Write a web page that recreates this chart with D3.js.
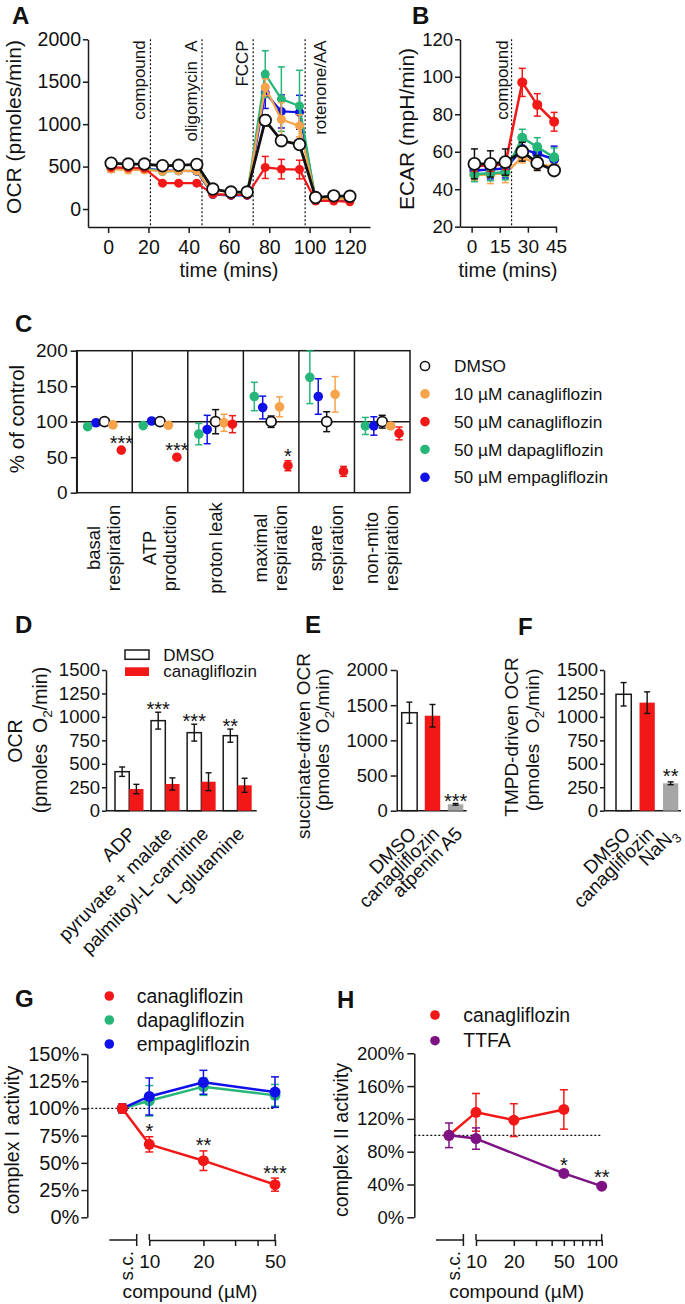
<!DOCTYPE html>
<html><head><meta charset="utf-8">
<script src="https://cdn.jsdelivr.net/npm/d3@7"></script>
<style>body{margin:0;background:#fff} svg{display:block} text{font-family:'Liberation Sans',Arial,Helvetica,sans-serif;fill:#111}</style>
</head><body>
<script>
const FONT="'Liberation Sans', Arial, Helvetica, sans-serif";
const COL={green:"#25b678",orange:"#f7a34c",red:"#f21818",blue:"#1010e8",purple:"#7e1184",gray:"#a6a6a6",ink:"#1a1a1a"};
const fmtInt=d3.format("d");

// ---------- Panel A data (OCR, pmoles/min)
const timeA=[1.5,10,18,27,35,44,52,61,69,78,86,95,103,112,120];
const ocrDMSO=[540,530,530,510,515,525,235,200,200,1045,805,760,135,155,150];
const ocrDMSOerr=[30,20,20,20,20,20,15,15,15,65,40,40,15,15,15];
const ocrCana10=[470,460,460,445,450,450,180,170,170,1435,1055,980,115,120,120];
const ocrCana10err=[30,30,30,30,30,30,20,20,20,100,200,130,15,15,15];
const ocrCana50=[490,485,480,305,305,305,175,165,165,490,470,465,95,95,85];
const ocrCana50err=[20,20,20,20,20,20,15,15,15,130,115,110,10,10,10];
const ocrDapa=[480,480,480,440,450,450,180,170,170,1590,1295,1215,110,120,120];
const ocrDapaErr=[30,30,30,30,30,30,20,20,20,275,380,420,15,15,15];
const ocrEmpa=[480,480,475,455,450,445,170,160,160,1370,1150,1140,100,110,110];
const ocrEmpaErr=[45,30,30,30,30,30,20,20,20,185,195,200,15,15,15];
const injTimesA=[21,46.6,72,97.8];
const injLabelsA=["compound","oligomycin\u00A0\u00A0A","FCCP","rotenone/AA"];
const injSideA=["left","left","left","right"];
const ticksAx=[0,20,40,60,80,100,120], ticksAy=[0,500,1000,1500,2000];

// ---------- Panel B data (ECAR, mpH/min)
const timeB=[1.5,10,18,27,35,44];
const ecarDMSO=[53.5,53.5,54.5,60,54,50], ecarDMSOerr=[8,7,7,5,4,2];
const ecarCana10=[47.5,48,48.5,57,53.5,52], ecarCana10err=[3,5,5,3,3,3];
const ecarCana50=[52.5,52.5,53.5,97,85,76], ecarCana50err=[3,3,3,7.5,6,5];
const ecarDapa=[48,48.5,49,67.5,62.5,57], ecarDapaErr=[4,4,4,4.5,5,5];
const ecarEmpa=[50,50.5,51,61.5,59,56], ecarEmpaErr=[4,5,5,4,5,7];
const injTimesB=[21.3];
const ticksBx=[0,15,30,45], ticksBy=[20,40,60,80,100,120];

// ---------- Panel C data (% of control)
const catC=["basal respiration","ATP production","proton leak","maximal respiration","spare respiration","non-mito respiration"];
const catCLines=[["basal","respiration"],["ATP","production"],["proton leak"],["maximal","respiration"],["spare","respiration"],["non-mito","respiration"]];
const seriesC=["50 µM dapagliflozin","50 µM empagliflozin","DMSO","10 µM canagliflozin","50 µM canagliflozin"];
const legendC=["DMSO","10 µM canagliflozin","50 µM canagliflozin","50 µM dapagliflozin","50 µM empagliflozin"];
const pctDapa=[93,94.5,82.5,135.5,162.5,94], pctDapaErr=[3,3,15,20,37,12];
const pctEmpa=[98.5,101,89,120,135.5,94], pctEmpaErr=[3,3,20,16,25,13];
const pctDMSO=[100,100,100,100,100,100], pctDMSOerr=[3,3,17,8,14,9];
const pctCana10=[95.5,95,98.5,121,138.5,94], pctCana10err=[3,3,12,14,25,3];
const pctCana50=[60,50,96.5,38,30,83.5], pctCana50err=[3,3,12,7,7,9];
const starsC=["***","***","","*","",""];
const ticksCy=[0,50,100,150,200];

// ---------- Panel D data
const catD=["ADP","pyruvate + malate","palmitoyl-L-carnitine","L-glutamine"];
const ocrD_DMSO=[416,960,832,800], ocrD_DMSOerr=[50,90,90,70];
const ocrD_Cana=[231,285,309,271], ocrD_CanaErr=[50,65,95,75];
const starsD=["","***","***","**"];
const ticksDy=[0,250,500,750,1000,1250,1500];

// ---------- Panel E data
const catE=["DMSO","canagliflozin","atpenin A5"];
const ocrE=[1393,1350,91], ocrEerr=[150,160,12];
const starsE=["","","***"];
const ticksEy=[0,500,1000,1500,2000];

// ---------- Panel F data
const catF=["DMSO","canagliflozin","NaN3"];
const ocrF=[1241,1152,292], ocrFerr=[125,115,15];
const starsF=["","","**"];
const ticksFy=[0,250,500,750,1000,1250,1500];

// ---------- Panel G data (0 = solvent control, s.c.)
const doseG=[0,10,20,50];
const cI_cana=[100,67,52,30], cI_canaErr=[4,7,9,6];
const cI_dapa=[100,107,120,112], cI_dapaErr=[4,14,8,10];
const cI_empa=[100,111,124,115], cI_empaErr=[4,17,11,14];
const starsG=["","*","**","***"];
const ticksGy=[0,25,50,75,100,125,150];
const ticksGx=[10,20,30,40,50], labelsGx=[10,20,50];

// ---------- Panel H data (0 = solvent control, s.c.)
const doseH_cana=[0,10,20,50], cII_cana=[100,128,118.5,131.5], cII_canaErr=[3,23,20,24];
const doseH_ttfa=[0,10,50,100], cII_ttfa=[100,96,53.5,38], cII_ttfaErr=[15,13,2,2];
const starsH=["","","*","**"];
const ticksHy=[0,40,80,120,160,200];
const ticksHx=[10,20,30,40,50,60,70,80,90,100], labelsHx=[10,20,50,100];

// ================= helpers
const svg=d3.select("body").append("svg").attr("width",685).attr("height",1304);
svg.append("rect").attr("width",685).attr("height",1304).attr("fill","#fff");

function axisStyle(g,fs){
  g.attr("font-family",FONT).attr("font-size",fs);
  g.select(".domain").attr("stroke",COL.ink).attr("stroke-width",1.5);
  g.selectAll(".tick line").attr("stroke",COL.ink).attr("stroke-width",1.5);
  g.selectAll(".tick text").attr("fill","#111");
}
function errorBars(g,pts,color,cap,sw){
  pts.forEach(p=>{
    g.append("line").attr("x1",p.cx).attr("x2",p.cx).attr("y1",p.y1).attr("y2",p.y2).attr("stroke",color).attr("stroke-width",sw);
    [p.y1,p.y2].forEach(yy=>g.append("line").attr("x1",p.cx-cap/2).attr("x2",p.cx+cap/2).attr("y1",yy).attr("y2",yy).attr("stroke",color).attr("stroke-width",sw));
  });
}
function series(g,xs,vs,es,xf,y,o){
  const pts=xs.map((t,i)=>({cx:xf(t),v:vs[i],e:es[i]}));
  errorBars(g,pts.map(p=>({cx:p.cx,y1:y(p.v-p.e),y2:y(p.v+p.e)})),o.errColor||o.color,o.cap,o.ew||1.5);
  if(o.lw) g.append("path").attr("d",d3.line().x(p=>p.cx).y(p=>y(p.v))(pts)).attr("fill","none").attr("stroke",o.lineColor||o.color).attr("stroke-width",o.lw).attr("stroke-linejoin","round");
  pts.forEach(p=>g.append("circle").attr("cx",p.cx).attr("cy",y(p.v)).attr("r",o.r)
    .attr("fill",o.open?"#fff":o.color).attr("stroke",o.open?"#111":"none").attr("stroke-width",o.open?1.8:0));
  return pts;
}
function vtext(g,cx,cy,str,fs){
  return g.append("text").attr("transform",`translate(${cx},${cy}) rotate(-90)`).attr("text-anchor","middle").attr("dy","0.35em").attr("font-size",fs).text(str);
}
function starText(g,cx,cy,s,fs){ if(!s) return; g.append("text").attr("x",cx).attr("y",cy+0.57*fs).attr("text-anchor","middle").attr("font-size",fs).text(s); }
function panelLetter(x,y,s){ svg.append("text").attr("x",x).attr("y",y).attr("font-size",24).attr("font-weight","bold").text(s); }
function pmoles(g,cx,cy,fs){
  const t=g.append("text").attr("transform",`translate(${cx},${cy}) rotate(-90)`).attr("text-anchor","middle").attr("dy","0.35em").attr("font-size",fs);
  t.append("tspan").text("(pmoles\u00A0\u00A0O");
  t.append("tspan").attr("font-size",fs*0.7).attr("dy",fs*0.28).text("2");
  t.append("tspan").attr("dy",-fs*0.28).text("/min)");
}
function dashed(g,x1,x2,y1,y2){ g.append("line").attr("x1",x1).attr("x2",x2).attr("y1",y1).attr("y2",y2).attr("stroke","#111").attr("stroke-width",1.2).attr("stroke-dasharray","2,2"); }

// ================= Panel A
{
  const g=svg.append("g");
  const x=d3.scaleLinear().domain([-10,130]).range([88,370]);
  const y=d3.scaleLinear().domain([-212,2000]).range([227,39.3]);
  injTimesA.forEach((t,i)=>{
    dashed(g,x(t),x(t),y(2000),y(-212));
    const bx=injSideA[i]==="left"?x(t)-5:x(t)+21;
    g.append("text").attr("transform",`translate(${bx},${y(2000)+1}) rotate(-90)`).attr("text-anchor","end").attr("font-size",17).text(injLabelsA[i]);
  });
  axisStyle(g.append("g").attr("transform",`translate(0,${y(-212)})`).call(d3.axisBottom(x).tickValues(ticksAx).tickFormat(fmtInt).tickSize(6).tickPadding(7).tickSizeOuter(0)),19.5);
  axisStyle(g.append("g").attr("transform",`translate(${x(-10)},0)`).call(d3.axisLeft(y).tickValues(ticksAy).tickFormat(fmtInt).tickSize(5).tickPadding(2).tickSizeOuter(0)),19.5);
  const opt={cap:7,lw:2.2,r:4.5};
  series(g,timeA,ocrEmpa,ocrEmpaErr,x,y,{...opt,color:COL.blue});
  series(g,timeA,ocrDapa,ocrDapaErr,x,y,{...opt,color:COL.green});
  series(g,timeA,ocrCana10,ocrCana10err,x,y,{...opt,color:COL.orange});
  series(g,timeA,ocrCana50,ocrCana50err,x,y,{...opt,color:COL.red});
  series(g,timeA,ocrDMSO,ocrDMSOerr,x,y,{cap:7,lw:2.8,r:5.8,color:"#111",open:true});
  vtext(g,13.5,127,"OCR (pmoles/min)",21);
  g.append("text").attr("x",(x(-10)+x(130))/2).attr("y",277).attr("text-anchor","middle").attr("font-size",20).text("time (mins)");
  panelLetter(12,24,"A");
}
// ================= Panel B
{
  const g=svg.append("g");
  const x=d3.scaleLinear().domain([-6.2,45]).range([460,556]);
  const y=d3.scaleLinear().domain([20,120]).range([226.7,39.3]);
  injTimesB.forEach(t=>{
    dashed(g,x(t),x(t),y(120),y(20));
    g.append("text").attr("transform",`translate(${x(t)-4},${y(120)+1}) rotate(-90)`).attr("text-anchor","end").attr("font-size",17).text("compound");
  });
  axisStyle(g.append("g").attr("transform",`translate(0,${y(20)})`).call(d3.axisBottom(x).tickValues(ticksBx).tickFormat(fmtInt).tickSize(6).tickPadding(7).tickSizeOuter(0)),19);
  axisStyle(g.append("g").attr("transform",`translate(${x(-6.2)},0)`).call(d3.axisLeft(y).tickValues(ticksBy).tickFormat(fmtInt).tickSize(5).tickPadding(2).tickSizeOuter(0)),18.5);
  const opt={cap:7,lw:2.5,r:5};
  series(g,timeB,ecarCana10,ecarCana10err,x,y,{...opt,color:COL.orange});
  series(g,timeB,ecarEmpa,ecarEmpaErr,x,y,{...opt,color:COL.blue});
  series(g,timeB,ecarDapa,ecarDapaErr,x,y,{...opt,color:COL.green});
  series(g,timeB,ecarCana50,ecarCana50err,x,y,{...opt,color:COL.red});
  series(g,timeB,ecarDMSO,ecarDMSOerr,x,y,{cap:7,lw:2.8,r:6,color:"#111",open:true});
  vtext(g,406.7,129,"ECAR (mpH/min)",21);
  g.append("text").attr("x",(x(-6.2)+x(45))/2).attr("y",277).attr("text-anchor","middle").attr("font-size",20).text("time (mins)");
  panelLetter(412,24,"B");
}
// ================= Panel C
{
  const g=svg.append("g");
  const x=d3.scaleBand().domain(catC).range([76.7,410]);
  const sub=d3.scalePoint().domain(seriesC).range([0,x.bandwidth()]).padding(1.3);
  const y=d3.scaleLinear().domain([0,200]).range([492.7,350.7]);
  g.append("rect").attr("x",x.range()[0]).attr("y",y(200)).attr("width",x.range()[1]-x.range()[0]).attr("height",y(0)-y(200)).attr("fill","none").attr("stroke",COL.ink).attr("stroke-width",1.5);
  catC.slice(1).forEach(c=>g.append("line").attr("x1",x(c)).attr("x2",x(c)).attr("y1",y(200)).attr("y2",y(0)).attr("stroke",COL.ink).attr("stroke-width",1.5));
  g.append("line").attr("x1",x.range()[0]).attr("x2",x.range()[1]).attr("y1",y(100)).attr("y2",y(100)).attr("stroke",COL.ink).attr("stroke-width",1.5);
  axisStyle(g.append("g").attr("transform",`translate(${x.range()[0]},0)`).call(d3.axisLeft(y).tickValues(ticksCy).tickFormat(fmtInt).tickSize(6).tickPadding(3).tickSizeOuter(0)),19);
  const data={"50 µM dapagliflozin":[pctDapa,pctDapaErr,COL.green,false],"50 µM empagliflozin":[pctEmpa,pctEmpaErr,COL.blue,false],
    "DMSO":[pctDMSO,pctDMSOerr,"#111",true],"10 µM canagliflozin":[pctCana10,pctCana10err,COL.orange,false],"50 µM canagliflozin":[pctCana50,pctCana50err,COL.red,false]};
  catC.forEach((c,ci)=>{
    seriesC.forEach(s=>{
      const [v,e,col,open]=data[s];
      series(g,[c],[v[ci]],[e[ci]],cc=>x(cc)+sub(s),y,{color:col,open:open,cap:7,r:open?5:4.8});
    });
    const sx=x(c)+sub("50 µM canagliflozin");
    starText(g,sx,y(pctCana50[ci]+pctCana50err[ci])-9,starsC[ci],20);
    const cx=x(c)+x.bandwidth()/2, lines=catCLines[ci];
    if(lines.length===1) vtext(g,cx,548,lines[0],18.5);
    else { vtext(g,cx-11,548,lines[0],18.5); vtext(g,cx+9.5,548,lines[1],18.5); }
  });
  const ly=d3.scalePoint().domain(legendC).range([366,477.3]);
  legendC.forEach(s=>{
    const [, , col,open]=data[s];
    g.append("circle").attr("cx",425).attr("cy",ly(s)).attr("r",open?4.6:4.8).attr("fill",open?"#fff":col).attr("stroke",open?"#111":"none").attr("stroke-width",1.5);
    g.append("text").attr("x",454).attr("y",ly(s)).attr("dy","0.35em").attr("font-size",17.3).text(s);
  });
  vtext(g,17,419,"% of control",20.5);
  panelLetter(15,331.7,"C");
}
// bar helper
function barAxes(g,x0,x1,y,ticks,fs,ts,tp){
  axisStyle(g.append("g").attr("transform",`translate(${x0},0)`).call(d3.axisLeft(y).tickValues(ticks).tickFormat(fmtInt).tickSize(ts).tickPadding(tp).tickSizeOuter(0)),fs);
  g.append("line").attr("x1",x0).attr("x2",x1).attr("y1",y(0)).attr("y2",y(0)).attr("stroke",COL.ink).attr("stroke-width",1.5);
}
function slantLabel(g,px,py,str,fs,sub){
  const t=g.append("text").attr("transform",`translate(${px},${py}) rotate(-45)`).attr("text-anchor","end").attr("font-size",fs);
  t.append("tspan").text(str);
  if(sub){ t.append("tspan").attr("font-size",fs*0.7).attr("dy",fs*0.28).text(sub); }
}
// ================= Panel D
{
  const g=svg.append("g");
  const x=d3.scaleBand().domain(catD).range([115,251.7]).paddingInner(0.21);
  const sub=d3.scaleBand().domain(["DMSO","canagliflozin"]).range([0,x.bandwidth()]);
  const y=d3.scaleLinear().domain([0,1500]).range([810.7,670]);
  barAxes(g,106,256.7,y,ticksDy,18.5,4,2);
  catD.forEach((c,i)=>{
    g.append("rect").attr("x",x(c)+sub("DMSO")).attr("y",y(ocrD_DMSO[i])).attr("width",sub.bandwidth()).attr("height",y(0)-y(ocrD_DMSO[i])).attr("fill","#fff").attr("stroke",COL.ink).attr("stroke-width",1.5);
    g.append("rect").attr("x",x(c)+sub("canagliflozin")).attr("y",y(ocrD_Cana[i])).attr("width",sub.bandwidth()).attr("height",y(0)-y(ocrD_Cana[i])).attr("fill",COL.red);
    const c1=x(c)+sub("DMSO")+sub.bandwidth()/2, c2=x(c)+sub("canagliflozin")+sub.bandwidth()/2;
    errorBars(g,[{cx:c1,y1:y(ocrD_DMSO[i]-ocrD_DMSOerr[i]),y2:y(ocrD_DMSO[i]+ocrD_DMSOerr[i])},{cx:c2,y1:y(ocrD_Cana[i]-ocrD_CanaErr[i]),y2:y(ocrD_Cana[i]+ocrD_CanaErr[i])}],"#111",6,1.4);
    starText(g,c1,y(ocrD_DMSO[i]+ocrD_DMSOerr[i])-7.5,starsD[i],20);
    slantLabel(g,x(c)+x.bandwidth()/2+8,835,c,19);
  });
  g.append("rect").attr("x",125).attr("y",650).attr("width",24).attr("height",9.3).attr("fill","#fff").attr("stroke",COL.ink).attr("stroke-width",1.5);
  g.append("rect").attr("x",125).attr("y",667.3).attr("width",24).attr("height",8.7).attr("fill",COL.red);
  g.append("text").attr("x",163.3).attr("y",660.5).attr("font-size",17).text("DMSO");
  g.append("text").attr("x",163.3).attr("y",677).attr("font-size",17).text("canagliflozin");
  vtext(g,15,741,"OCR",19.5);
  pmoles(g,40,740,19.5);
  panelLetter(15,633,"D");
}
// ================= Panel E
{
  const g=svg.append("g");
  const x=d3.scaleBand().domain(catE).range([401.7,463.3]).paddingInner(0.33);
  const y=d3.scaleLinear().domain([0,2000]).range([810.7,670]);
  const fills=["#fff",COL.red,COL.gray];
  barAxes(g,396.7,466.7,y,ticksEy,18.5,6,3);
  catE.forEach((c,i)=>{
    g.append("rect").attr("x",x(c)).attr("y",y(ocrE[i])).attr("width",x.bandwidth()).attr("height",y(0)-y(ocrE[i])).attr("fill",fills[i]).attr("stroke",i===0?COL.ink:"none").attr("stroke-width",1.5);
    const cx=x(c)+x.bandwidth()/2;
    errorBars(g,[{cx:cx,y1:y(ocrE[i]-ocrEerr[i]),y2:y(ocrE[i]+ocrEerr[i])}],"#111",6,1.4);
    starText(g,cx,y(ocrE[i]+ocrEerr[i])-7,starsE[i],20);
    slantLabel(g,cx+8,835,c,19);
  });
  vtext(g,303.3,746,"succinate-driven OCR",19);
  pmoles(g,322,740,19);
  panelLetter(305,633,"E");
}
// ================= Panel F
{
  const g=svg.append("g");
  const x=d3.scaleBand().domain(catF).range([616,678.3]).paddingInner(0.35);
  const y=d3.scaleLinear().domain([0,1500]).range([810.7,670]);
  const fills=["#fff",COL.red,COL.gray];
  barAxes(g,604,681,y,ticksFy,18.5,4,2);
  catF.forEach((c,i)=>{
    g.append("rect").attr("x",x(c)).attr("y",y(ocrF[i])).attr("width",x.bandwidth()).attr("height",y(0)-y(ocrF[i])).attr("fill",fills[i]).attr("stroke",i===0?COL.ink:"none").attr("stroke-width",1.5);
    const cx=x(c)+x.bandwidth()/2;
    errorBars(g,[{cx:cx,y1:y(ocrF[i]-ocrFerr[i]),y2:y(ocrF[i]+ocrFerr[i])}],"#111",6,1.4);
    starText(g,cx,y(ocrF[i]+ocrFerr[i])-10,starsF[i],20);
    if(c==="NaN3") slantLabel(g,cx+8,835,"NaN",19,"3"); else slantLabel(g,cx+8,835,c,19);
  });
  vtext(g,511.7,737,"TMPD-driven OCR",19);
  pmoles(g,532,740,19);
  panelLetter(518,635,"F");
}
// dose-response helper
function doseAxis(g,x,scX,yAx,ticks,labels,fs){
  g.append("line").attr("x1",scX-13).attr("x2",scX+14.4).attr("y1",yAx).attr("y2",yAx).attr("stroke",COL.ink).attr("stroke-width",1.5);
  g.append("line").attr("x1",scX+14.4).attr("x2",scX+14.4).attr("y1",yAx-6).attr("y2",yAx+6).attr("stroke",COL.ink).attr("stroke-width",1.5);
  const ax=g.append("g").attr("transform",`translate(0,${yAx})`).call(d3.axisBottom(x).tickValues(ticks).tickFormat(d=>labels.includes(d)?d:"").tickSize(6).tickPadding(9).tickSizeOuter(0));
  axisStyle(ax,fs);
  const d=x.domain();
  [d[0],d[1]].forEach(v=>g.append("line").attr("x1",x(v)).attr("x2",x(v)).attr("y1",yAx-6).attr("y2",yAx).attr("stroke",COL.ink).attr("stroke-width",1.5));
  g.append("text").attr("transform",`translate(${scX+4},${yAx+11}) rotate(-90)`).attr("text-anchor","end").attr("dy","0.35em").attr("font-size",fs).text("s.c.");
}
// ================= Panel G
{
  const g=svg.append("g");
  const x=d3.scaleLog().domain([10,50]).range([149.3,275]);
  const scX=x(10)-27;
  const xf=d=>d===0?scX:x(d);
  const y=d3.scaleLinear().domain([0,150]).range([1217.3,1054]);
  axisStyle(g.append("g").attr("transform",`translate(87.3,0)`).call(d3.axisLeft(y).tickValues(ticksGy).tickFormat(d=>d+"%").tickSize(6).tickPadding(2).tickSizeOuter(0)),20);
  dashed(g,87.3,x(50),y(100),y(100));
  doseAxis(g,x,scX,1240,ticksGx,labelsGx,19);
  const opt={cap:8,lw:2.5,r:5.5};
  series(g,doseG,cI_dapa,cI_dapaErr,xf,y,{...opt,color:COL.green});
  series(g,doseG,cI_empa,cI_empaErr,xf,y,{...opt,color:COL.blue});
  series(g,doseG,cI_cana,cI_canaErr,xf,y,{...opt,color:COL.red});
  doseG.forEach((d,i)=>starText(g,xf(d),y(cI_cana[i]+cI_canaErr[i])-10,starsG[i],20));
  const legG=[["canagliflozin",COL.red],["dapagliflozin",COL.green],["empagliflozin",COL.blue]];
  const ly=d3.scalePoint().domain(legG.map(l=>l[0])).range([996,1044]);
  legG.forEach(([s,c])=>{ g.append("circle").attr("cx",109.3).attr("cy",ly(s)).attr("r",4.8).attr("fill",c);
    g.append("text").attr("x",136.7).attr("y",ly(s)).attr("dy","0.35em").attr("font-size",19.4).text(s); });
  vtext(g,12,1140,"complex I activity",19.5);
  g.append("text").attr("x",190).attr("y",1298).attr("text-anchor","middle").attr("font-size",19.2).text("compound (µM)");
  panelLetter(15,1006.7,"G");
}
// ================= Panel H
{
  const g=svg.append("g");
  const x=d3.scaleLog().domain([10,100]).range([476,601.7]);
  const scX=x(10)-27;
  const xf=d=>d===0?scX:x(d);
  const y=d3.scaleLinear().domain([0,200]).range([1217.3,1053.3]);
  axisStyle(g.append("g").attr("transform",`translate(414.3,0)`).call(d3.axisLeft(y).tickValues(ticksHy).tickFormat(d=>d+"%").tickSize(7).tickPadding(3).tickSizeOuter(0)),18.5);
  dashed(g,414.3,x(100),y(100),y(100));
  doseAxis(g,x,scX,1240,ticksHx,labelsHx,19);
  const opt={cap:8,lw:2.5,r:5.5};
  series(g,doseH_cana,cII_cana,cII_canaErr,xf,y,{...opt,color:COL.red});
  series(g,doseH_ttfa,cII_ttfa,cII_ttfaErr,xf,y,{...opt,color:COL.purple});
  doseH_ttfa.forEach((d,i)=>starText(g,xf(d),y(cII_ttfa[i]+cII_ttfaErr[i])-11.5,starsH[i],20));
  const legH=[["canagliflozin",COL.red],["TTFA",COL.purple]];
  const ly=d3.scalePoint().domain(legH.map(l=>l[0])).range([1015,1040.7]);
  legH.forEach(([s,c])=>{ g.append("circle").attr("cx",435).attr("cy",ly(s)).attr("r",4.8).attr("fill",c);
    g.append("text").attr("x",463.3).attr("y",ly(s)).attr("dy","0.35em").attr("font-size",19.4).text(s); });
  vtext(g,341,1140,"complex II activity",19.5);
  g.append("text").attr("x",516.7).attr("y",1298).attr("text-anchor","middle").attr("font-size",19.2).text("compound (µM)");
  panelLetter(337,1008,"H");
}
</script>
</body></html>
